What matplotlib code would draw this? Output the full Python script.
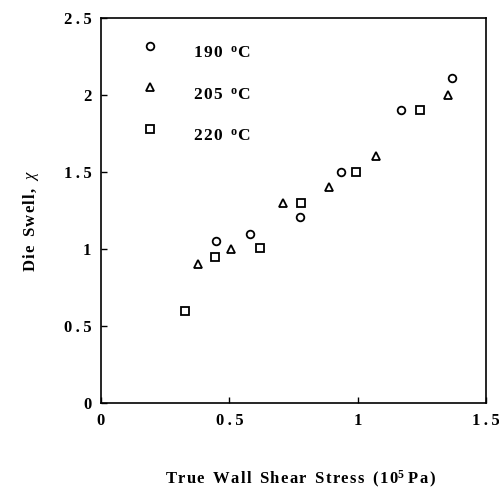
import matplotlib.pyplot as plt

# ==================== 数据 ====================
x_190 = [0.447, 0.58, 0.775, 0.935, 1.169, 1.367]
y_190 = [1.05, 1.10, 1.21, 1.50, 1.90, 2.11]

x_205 = [0.377, 0.508, 0.708, 0.888, 1.07, 1.35]
y_205 = [0.90, 1.00, 1.30, 1.40, 1.605, 2.00]

x_220 = [0.328, 0.444, 0.619, 0.78, 0.992, 1.242]
y_220 = [0.60, 0.95, 1.005, 1.30, 1.50, 1.90]

legend_labels = ['190', '205', '220']
xticks = [0, 0.5, 1, 1.5]
xticklabels = ['0', '0.5', '1', '1.5']
yticks = [0, 0.5, 1, 1.5, 2, 2.5]
yticklabels = ['0', '0.5', '1', '1.5', '2', '2.5']

# ==================== 字体 ====================
plt.rcParams['font.family'] = ['Liberation Serif', 'DejaVu Serif']
plt.rcParams['mathtext.fontset'] = 'custom'
plt.rcParams['mathtext.rm'] = 'Liberation Serif'
plt.rcParams['mathtext.it'] = 'Liberation Serif:italic'
plt.rcParams['mathtext.bf'] = 'Liberation Serif:bold'

HAIR = '\u200a'


def track(s, gap=HAIR):
    # 字间距加宽（原图字母间隔较大）
    return gap.join(s)


# ==================== 绘图 ====================
fig = plt.figure(figsize=(4.99, 4.91), dpi=100)
ax = fig.add_axes([0.2024, 0.1792, 0.7716, 0.7841])

mk = dict(linestyle='none', markerfacecolor='white', markeredgecolor='black',
          markeredgewidth=1.3, markersize=5.5)
ax.plot(x_190, y_190, marker='o', **mk)
ax.plot(x_205, y_205, marker='^', **mk)
ax.plot(x_220, y_220, marker='s', **mk)

# 图内图例
leg_y = [2.32, 2.05, 1.78]
for m, lab, yy in zip(['o', '^', 's'], legend_labels, leg_y):
    ax.plot([0.19], [yy], marker=m, **mk)
    ax.text(0.358, yy - 0.078, track(lab) + '  ' + r'$^{\mathbf{o}}$C',
            fontsize=12.5, fontweight='bold', va='baseline', ha='left')

ax.set_xlim(0, 1.5)
ax.set_ylim(0, 2.5)
ax.set_xticks(xticks)
ax.set_yticks(yticks)
ax.set_xticklabels([track(t, '\u2009') for t in xticklabels],
                   fontsize=12, fontweight='bold')
ax.set_yticklabels([track(t, '\u2009') for t in yticklabels],
                   fontsize=12, fontweight='bold')
ax.tick_params(direction='in', length=4, width=1, pad=7)

for s in ax.spines.values():
    s.set_linewidth(1.2)

xlab = track('True') + '  ' + track('Wall') + '  ' + track('Shear') + '  ' + \
    track('Stress') + '  ' + track('(10') + r'$^{\mathbf{5}}$' + ' ' + track('Pa)')
fig.text(300 / 499, 1 - 484 / 491, xlab, fontsize=12, fontweight='bold',
         ha='center', va='baseline')

ylab = track('Die') + '  ' + track('Swell,') + '  ' + r'$\chi$'
fig.text(31 / 499, 1 - 221 / 491, ylab, fontsize=12, fontweight='bold',
         ha='center', va='center', rotation=90)

plt.savefig('out.png', dpi=100)
